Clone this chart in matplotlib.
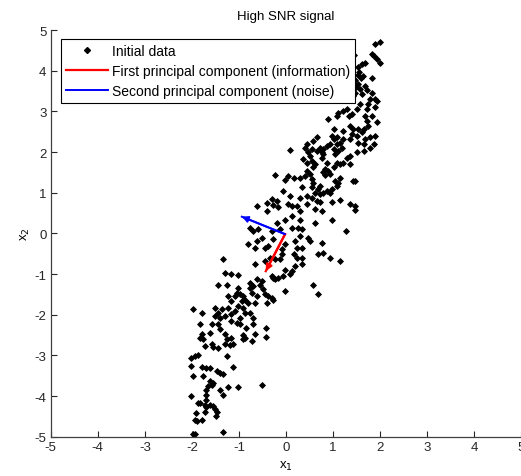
import numpy as np
import matplotlib
matplotlib.use("Agg")
import matplotlib.pyplot as plt
from matplotlib.lines import Line2D

plt.rcParams['font.family'] = ['Liberation Sans', 'DejaVu Sans']

# ---- data (x1, x2) ----
band_top = [
    (1.99, 4.71), (1.90, 4.66), (1.82, 4.41), (1.87, 4.37), (1.94, 4.29), (2.00, 4.20),
    (1.68, 4.20), (1.61, 4.16), (1.56, 3.96), (1.63, 3.87), (1.59, 3.81), (1.52, 3.89),
    (1.82, 3.81), (1.54, 3.67), (1.49, 3.59), (1.68, 3.63), (1.72, 3.53), (1.82, 3.46),
    (1.89, 3.30), (1.93, 3.26), (1.79, 3.30), (1.75, 3.18), (1.57, 3.55), (1.61, 3.42),
    (1.47, 3.46), (1.43, 3.38), (1.36, 3.30), (1.29, 3.05), (1.22, 3.01), (1.11, 2.97),
    (1.08, 2.89), (1.33, 2.89), (1.40, 2.93), (1.50, 3.05), (1.57, 3.18), (1.72, 3.05),
    (1.68, 2.89), (1.72, 2.77), (1.89, 3.10), (1.65, 2.56), (1.61, 2.48), (1.54, 2.56),
    (1.43, 2.56), (1.36, 2.64), (1.22, 2.52), (1.01, 2.56), (0.97, 2.40), (1.08, 2.36),
    (1.01, 2.31), (1.22, 2.31), (1.36, 2.31), (1.40, 2.44), (1.50, 2.40), (1.68, 2.31),
    (1.65, 2.19), (1.79, 2.36), (1.89, 2.40), (1.93, 2.73), (1.75, 2.64), (1.82, 2.89),
    (1.45, 4.38), (1.47, 3.77), (1.42, 3.70), (1.52, 4.08),
]
band_upper = [
    (0.90, 2.81), (0.87, 2.15), (0.65, 2.36), (0.58, 2.27), (0.44, 2.19), (0.40, 2.11),
    (0.72, 2.11), (0.55, 2.07), (0.65, 2.03), (0.79, 2.07), (1.01, 2.07), (1.11, 2.03),
    (0.76, 1.99), (1.50, 1.99), (1.65, 2.03), (0.09, 2.04), (1.19, 2.11), (1.79, 2.11),
    (1.86, 2.19), (1.54, 2.23), (1.15, 2.23), (1.08, 2.19), (0.94, 2.19),
    (0.47, 1.99), (0.51, 1.90), (0.37, 1.82), (0.44, 1.74), (0.55, 1.78),
    (0.78, 1.95), (0.76, 1.86), (0.87, 1.74), (1.04, 1.95), (1.08, 1.74), (1.15, 1.70),
    (1.29, 1.86), (1.36, 1.90), (1.36, 1.70), (1.22, 1.74), (1.01, 1.62),
    (0.62, 1.70), (0.58, 1.62), (0.83, 1.58), (0.79, 1.50), (0.90, 1.53), (0.94, 1.45),
    (0.83, 1.43), (0.44, 1.53), (0.51, 1.45), (0.40, 1.41),
    (-0.23, 1.43), (0.05, 1.41), (0.16, 1.35), (0.30, 1.37), (-0.02, 1.31),
    (0.55, 1.33), (0.58, 1.25), (0.55, 1.15), (0.69, 1.10), (0.72, 1.17), (0.62, 1.00),
    (0.72, 0.96), (0.79, 1.00), (0.87, 1.04), (0.94, 1.00), (0.97, 1.08), (1.08, 1.17),
    (1.11, 1.25), (1.04, 1.29), (1.15, 1.37), (1.43, 1.29), (1.47, 1.29),
    (-0.06, 1.04), (0.33, 1.13), (0.09, 0.92), (0.30, 0.88), (0.44, 0.92), (0.55, 0.88),
    (-0.30, 0.85), (-0.20, 0.80), (-0.41, 0.74), (-0.62, 0.67), (-0.27, 0.69), (-0.16, 0.66),
    (0.05, 0.71), (0.12, 0.67), (0.23, 0.67), (0.44, 0.71), (0.65, 0.80), (0.72, 0.76),
    (0.97, 0.76), (1.15, 0.82), (1.36, 0.71), (1.47, 0.67),
]
band_mid = [
    (-0.41, 0.55), (0.30, 0.55), (0.62, 0.59), (0.76, 0.55), (0.97, 0.34), (0.62, 0.26),
    (0.30, 0.34), (0.12, 0.43), (-0.02, 0.34), (-0.20, 0.26),
    (-0.77, 0.14), (-0.70, 0.06), (-0.59, 0.10), (-0.52, -0.11), (-0.62, -0.19), (-0.80, -0.25),
    (-0.66, -0.35), (-0.45, -0.35), (-0.38, -0.31), (-0.27, -0.15), (-0.30, 0.06), (-0.13, 0.10),
    (0.12, 0.14), (0.26, 0.14), (0.33, 0.10), (0.30, -0.07), (0.47, -0.11), (0.51, -0.19),
    (0.19, -0.19), (0.23, -0.35), (0.33, -0.35), (0.16, -0.52), (0.23, -0.60), (0.33, -0.60),
    (-0.02, -0.27), (-0.09, -0.39), (-0.09, -0.52), (-0.13, -0.64), (-0.23, -0.64), (-0.34, -0.60),
    (-0.45, -0.68), (-0.66, -0.76), (-1.33, -0.64),
    (0.76, -0.23), (0.69, -0.52), (0.79, -0.48), (1.15, -0.68), (0.94, -0.60),
    (1.28, 0.06), (1.47, 0.57),
]
band_lower = [
    (0.19, -0.81), (0.33, -0.76), (-0.02, -0.89), (-0.06, -1.05), (0.09, -1.01), (0.12, -0.93),
    (-0.27, -1.09), (-0.30, -1.05), (-0.23, -1.13), (-0.16, -1.09),
    (-1.30, -0.97), (-1.16, -1.01), (-1.01, -1.03), (-1.26, -1.26), (-1.44, -1.28), (-0.77, -1.21),
    (-0.62, -1.13), (-0.52, -1.17), (-0.55, -1.26), (-0.70, -1.30), (-0.77, -1.34),
    (-1.01, -1.34), (-1.05, -1.46), (-0.98, -1.50), (-1.09, -1.54), (-0.91, -1.54), (-0.87, -1.63),
    (-0.94, -1.67), (-0.80, -1.71), (-0.66, -1.71), (-0.62, -1.54), (-0.73, -1.46), (-0.48, -1.38),
    (-0.45, -1.50), (-0.38, -1.54), (-0.30, -1.58), (-0.41, -1.71), (-0.27, -1.63),
    (-0.02, -1.42), (0.58, -1.26), (0.69, -1.50),
    (-1.23, -1.54), (-1.16, -1.67), (-1.01, -1.79), (-1.23, -1.83), (-1.37, -1.87), (-1.51, -1.83),
    (-1.44, -1.95), (-1.40, -2.08), (-1.30, -2.04), (-1.16, -1.99), (-1.09, -1.91), (-0.91, -1.83),
    (-0.87, -1.95), (-0.77, -1.95), (-0.70, -2.08), (-0.98, -2.08), (-1.79, -1.95), (-1.97, -1.85),
    (-1.51, -2.04),
]
band_bottom = [
    (-1.83, -2.24), (-1.58, -2.24), (-1.44, -2.22), (-1.40, -2.36), (-1.16, -2.16), (-1.05, -2.20),
    (-0.98, -2.24), (-0.84, -2.32), (-0.70, -2.22), (-0.43, -2.32),
    (-1.79, -2.47), (-1.62, -2.45), (-1.30, -2.47), (-1.26, -2.61), (-1.16, -2.57), (-1.12, -2.73),
    (-0.91, -2.49), (-0.87, -2.57), (-0.91, -2.61), (-0.66, -2.47), (-0.73, -2.65), (-0.43, -2.55),
    (-1.83, -2.57), (-1.76, -2.61), (-1.72, -2.78), (-1.58, -2.73), (-1.55, -2.80), (-1.44, -2.82),
    (-1.30, -2.73), (-1.19, -2.75),
    (-1.94, -3.02), (-1.87, -2.98), (-2.01, -3.06), (-1.26, -3.02), (-2.01, -3.27), (-1.79, -3.29),
    (-1.69, -3.31), (-1.62, -3.31), (-1.47, -3.39), (-1.40, -3.43), (-1.33, -3.46), (-1.12, -3.29),
    (-1.97, -3.50), (-1.76, -3.50),
    (-1.62, -3.64), (-1.55, -3.68), (-1.58, -3.72), (-1.65, -3.76), (-1.40, -3.84), (-1.33, -3.97),
    (-1.23, -3.78), (-1.01, -3.78), (-0.50, -3.72),
    (-1.69, -3.84), (-1.70, -3.97), (-2.01, -4.01), (-1.69, -4.09), (-1.83, -4.17), (-1.87, -4.17),
    (-1.72, -4.21), (-1.62, -4.21), (-1.55, -4.24), (-1.69, -4.27), (-1.72, -4.40), (-1.51, -4.33),
    (-1.47, -4.40), (-1.49, -4.48), (-1.91, -4.42), (-1.94, -4.58), (-1.90, -4.62), (-1.79, -4.58),
    (-1.97, -4.93), (-1.94, -4.93), (-1.33, -4.88),
]

pc_origin = (-0.02, -0.02)
pc1_tip = (-0.43, -0.93)   # first principal component (red)
pc2_tip = (-0.94, 0.41)    # second principal component (blue)

tick_values = [-5, -4, -3, -2, -1, 0, 1, 2, 3, 4, 5]
title_text = "High SNR signal"
legend_labels = ["Initial data",
                 "First principal component (information)",
                 "Second principal component (noise)"]

pts = np.array(band_top + band_upper + band_mid + band_lower + band_bottom)

fig = plt.figure(figsize=(5.21, 4.77), dpi=100)
ax = fig.add_axes([0.0973, 0.0824, 0.9033, 0.8526])

ax.plot(pts[:, 0], pts[:, 1], linestyle='none', marker='D', markersize=3.0,
        color='black', markeredgewidth=0.6)

ax.plot([pc_origin[0], pc1_tip[0]], [pc_origin[1], pc1_tip[1]], color='red', lw=1.6)
ax.plot([pc_origin[0], pc2_tip[0]], [pc_origin[1], pc2_tip[1]], color='blue', lw=1.4)
ax.annotate('', xy=pc1_tip, xytext=pc_origin,
            arrowprops=dict(arrowstyle='-|>', color='red', lw=1.6,
                            mutation_scale=9, shrinkA=0, shrinkB=0))
ax.annotate('', xy=pc2_tip, xytext=pc_origin,
            arrowprops=dict(arrowstyle='-|>', color='blue', lw=1.4,
                            mutation_scale=9, shrinkA=0, shrinkB=0))

ax.set_xlim(-5, 5)
ax.set_ylim(-5, 5)
ax.set_xticks(tick_values)
ax.set_yticks(tick_values)
ax.set_xticklabels([str(t) for t in tick_values])
ax.set_yticklabels([str(t) for t in tick_values])
ax.tick_params(direction='in', length=4, width=0.8, labelsize=9.5, colors='#262626', pad=3)
for s in ['top', 'right']:
    ax.spines[s].set_visible(False)
for s in ['left', 'bottom']:
    ax.spines[s].set_color('#404040')
    ax.spines[s].set_linewidth(0.9)

ax.set_title(title_text, fontsize=9.5, pad=8)
ax.set_xlabel(r"x$_1$", fontsize=9.5, labelpad=4)
ax.set_ylabel(r"x$_2$", fontsize=9.5, labelpad=2)

handles = [Line2D([], [], linestyle='none', marker='D', markersize=3.0, color='black'),
           Line2D([], [], color='red', lw=1.6),
           Line2D([], [], color='blue', lw=1.4)]
leg = ax.legend(handles, legend_labels, loc='upper left', bbox_to_anchor=(0.022, 0.978),
                prop={'size': 10}, frameon=True, fancybox=False, framealpha=1,
                edgecolor='black', borderpad=0.35, labelspacing=0.45,
                handlelength=3.0, handletextpad=0.3, borderaxespad=0)
leg.get_frame().set_linewidth(0.8)

fig.savefig("out.png", dpi=100)
